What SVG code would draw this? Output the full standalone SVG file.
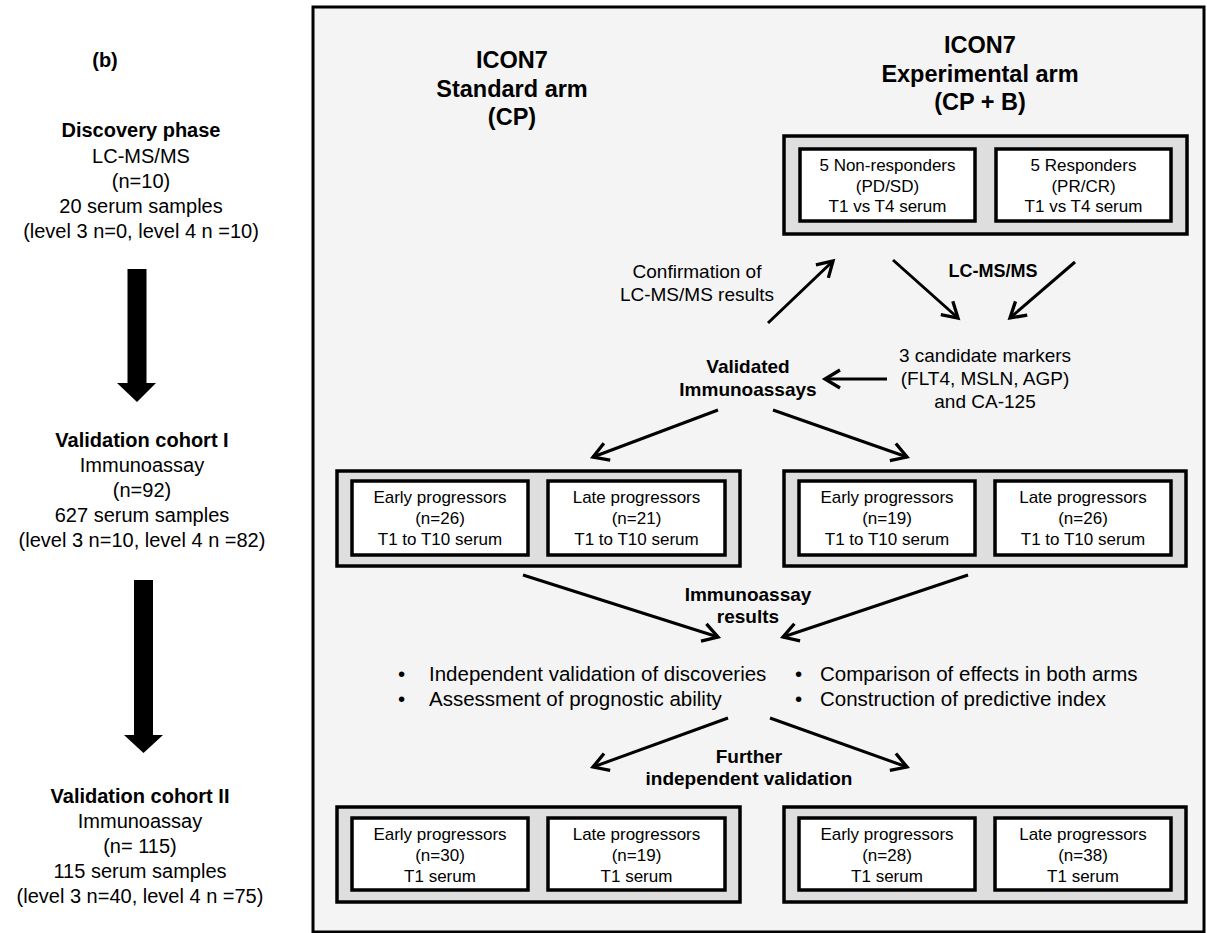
<svg xmlns="http://www.w3.org/2000/svg" width="1207" height="933" viewBox="0 0 1207 933">
<style>
text{font-family:"Liberation Sans",Arial,sans-serif;fill:#000;}
.c{text-anchor:middle;}
.b{font-weight:bold;}
.l{font-size:20px;}
.h{font-size:23.5px;font-weight:bold;text-anchor:middle;}
.m{font-size:19px;}
.s{font-size:17px;text-anchor:middle;}
.bl{font-size:20.5px;}
.outer{fill:#dedede;stroke:#000;stroke-width:3.5;}
.inner{fill:#fff;stroke:#000;stroke-width:3.5;}
.conn{stroke:#000;stroke-width:3;fill:none;marker-end:url(#ah);}
</style>
<defs>
<marker id="ah" markerUnits="userSpaceOnUse" viewBox="-18 -12 22 24" refX="0" refY="0" markerWidth="22" markerHeight="24" orient="auto">
<path d="M -15 -9 L 0 0 L -15 9" fill="none" stroke="#000" stroke-width="3.3" stroke-linejoin="miter"/>
</marker>
</defs>
<rect x="0" y="0" width="1207" height="933" fill="#fff"/>

<g id="left-column">
<text x="105" y="67" class="c b" style="font-size:20px">(b)</text>
<g id="discovery">
<text class="c b l" x="141" y="137">Discovery phase</text>
<text class="c l" x="141" y="163">LC-MS/MS</text>
<text class="c l" x="141" y="188">(n=10)</text>
<text class="c l" x="141" y="213">20 serum samples</text>
<text class="c l" x="141" y="238">(level 3 n=0, level 4 n =10)</text>
</g>
<polygon id="bigarrow1" points="127.5,269 146.5,269 146.5,383 156,383 137,402 117,383 127.5,383" fill="#000"/>
<g id="validation1">
<text class="c b l" x="142" y="447">Validation cohort I</text>
<text class="c l" x="142" y="472">Immunoassay</text>
<text class="c l" x="142" y="497">(n=92)</text>
<text class="c l" x="142" y="522">627 serum samples</text>
<text class="c l" x="142" y="547">(level 3 n=10, level 4 n =82)</text>
</g>
<polygon id="bigarrow2" points="134,580 153,580 153,735 163,735 143.5,753 124,735 134,735" fill="#000"/>
<g id="validation2">
<text class="c b l" x="140" y="803">Validation cohort II</text>
<text class="c l" x="140" y="828">Immunoassay</text>
<text class="c l" x="140" y="853">(n= 115)</text>
<text class="c l" x="140" y="878">115 serum samples</text>
<text class="c l" x="140" y="903">(level 3 n=40, level 4 n =75)</text>
</g>
</g>

<rect id="panel" x="313" y="7" width="891" height="925" fill="#f4f4f4" stroke="#000" stroke-width="3"/>

<g id="hdr-standard">
<text class="h" x="512" y="68">ICON7</text>
<text class="h" x="512" y="97">Standard arm</text>
<text class="h" x="512" y="125">(CP)</text>
</g>
<g id="hdr-experimental">
<text class="h" x="980" y="53">ICON7</text>
<text class="h" x="980" y="82">Experimental arm</text>
<text class="h" x="980" y="110">(CP + B)</text>
</g>

<g id="box-discovery">
<rect class="outer" x="784" y="136" width="403" height="98"/>
<rect class="inner" x="800" y="149" width="175" height="72"/>
<rect class="inner" x="996" y="149" width="175" height="72"/>
<text class="s" x="887.5" y="171">5 Non-responders</text>
<text class="s" x="887.5" y="192">(PD/SD)</text>
<text class="s" x="887.5" y="212">T1 vs T4 serum</text>
<text class="s" x="1083.5" y="171">5 Responders</text>
<text class="s" x="1083.5" y="192">(PR/CR)</text>
<text class="s" x="1083.5" y="212">T1 vs T4 serum</text>
</g>

<g id="box-mid-standard">
<rect class="outer" x="337" y="471" width="403" height="95"/>
<rect class="inner" x="352" y="481" width="176" height="74"/>
<rect class="inner" x="548" y="481" width="177" height="74"/>
<text class="s" x="440" y="503">Early progressors</text>
<text class="s" x="440" y="524">(n=26)</text>
<text class="s" x="440" y="545">T1 to T10 serum</text>
<text class="s" x="636.5" y="503">Late progressors</text>
<text class="s" x="636.5" y="524">(n=21)</text>
<text class="s" x="636.5" y="545">T1 to T10 serum</text>
</g>

<g id="box-mid-experimental">
<rect class="outer" x="784" y="471" width="402" height="95"/>
<rect class="inner" x="799" y="481" width="176" height="74"/>
<rect class="inner" x="995" y="481" width="176" height="74"/>
<text class="s" x="887" y="503">Early progressors</text>
<text class="s" x="887" y="524">(n=19)</text>
<text class="s" x="887" y="545">T1 to T10 serum</text>
<text class="s" x="1083" y="503">Late progressors</text>
<text class="s" x="1083" y="524">(n=26)</text>
<text class="s" x="1083" y="545">T1 to T10 serum</text>
</g>

<g id="box-bot-standard">
<rect class="outer" x="337" y="807" width="403" height="95"/>
<rect class="inner" x="352" y="818" width="176" height="72"/>
<rect class="inner" x="548" y="818" width="177" height="72"/>
<text class="s" x="440" y="840">Early progressors</text>
<text class="s" x="440" y="861">(n=30)</text>
<text class="s" x="440" y="882">T1 serum</text>
<text class="s" x="636.5" y="840">Late progressors</text>
<text class="s" x="636.5" y="861">(n=19)</text>
<text class="s" x="636.5" y="882">T1 serum</text>
</g>

<g id="box-bot-experimental">
<rect class="outer" x="784" y="807" width="402" height="95"/>
<rect class="inner" x="799" y="818" width="176" height="72"/>
<rect class="inner" x="995" y="818" width="176" height="72"/>
<text class="s" x="887" y="840">Early progressors</text>
<text class="s" x="887" y="861">(n=28)</text>
<text class="s" x="887" y="882">T1 serum</text>
<text class="s" x="1083" y="840">Late progressors</text>
<text class="s" x="1083" y="861">(n=38)</text>
<text class="s" x="1083" y="882">T1 serum</text>
</g>

<g id="lbl-confirmation">
<text class="c m" x="697" y="278">Confirmation of</text>
<text class="c m" x="697" y="301">LC-MS/MS results</text>
</g>
<g id="lbl-lcms">
<text class="c b" font-size="18" x="993" y="277">LC-MS/MS</text>
</g>
<g id="lbl-candidates">
<text class="c m" x="985" y="362">3 candidate markers</text>
<text class="c m" x="985" y="385">(FLT4, MSLN, AGP)</text>
<text class="c m" x="985" y="408">and CA-125</text>
</g>
<g id="lbl-validated">
<text class="c b m" x="748" y="373">Validated</text>
<text class="c b m" x="748" y="396">Immunoassays</text>
</g>
<g id="lbl-results">
<text class="c b m" x="748" y="601">Immunoassay</text>
<text class="c b m" x="748" y="623">results</text>
</g>
<g id="lbl-bullets">
<text class="bl" x="398" y="681">•</text>
<text class="bl" x="429" y="681">Independent validation of discoveries</text>
<text class="bl" x="398" y="706">•</text>
<text class="bl" x="429" y="706">Assessment of prognostic ability</text>
<text class="bl" x="795" y="681">•</text>
<text class="bl" x="820" y="681">Comparison of effects in both arms</text>
<text class="bl" x="795" y="706">•</text>
<text class="bl" x="820" y="706">Construction of predictive index</text>
</g>
<g id="lbl-further">
<text class="c b m" x="749" y="763">Further</text>
<text class="c b m" x="749" y="785">independent validation</text>
</g>

<g id="connectors">
<line class="conn" x1="768" y1="323" x2="833" y2="261"/>
<line class="conn" x1="893" y1="260" x2="958" y2="318"/>
<line class="conn" x1="1075" y1="262" x2="1010" y2="318"/>
<line class="conn" x1="887" y1="379" x2="825" y2="379"/>
<line class="conn" x1="718" y1="410" x2="593" y2="457"/>
<line class="conn" x1="773" y1="410" x2="907" y2="457"/>
<line class="conn" x1="523" y1="575" x2="718" y2="637"/>
<line class="conn" x1="968" y1="575" x2="783" y2="637"/>
<line class="conn" x1="728" y1="718" x2="593" y2="767"/>
<line class="conn" x1="770" y1="718" x2="907" y2="767"/>
</g>
</svg>
